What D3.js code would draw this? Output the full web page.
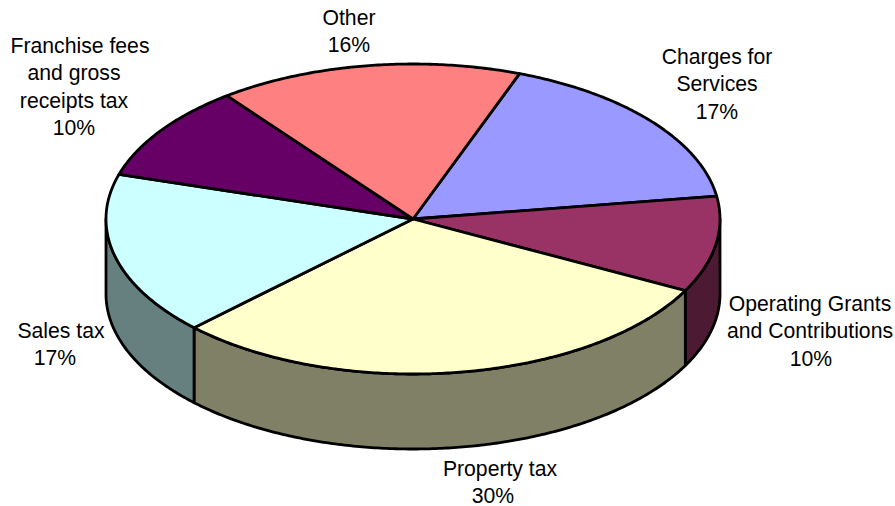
<!DOCTYPE html>
<html>
<head>
<meta charset="utf-8">
<script src="https://cdnjs.cloudflare.com/ajax/libs/d3/7.8.5/d3.min.js"></script>
<style>
  html, body { margin: 0; padding: 0; background: #fff; }
  svg { display: block; }
  text { font-family: "Liberation Sans", Arial, sans-serif; font-size: 21.2px; fill: #000; }
</style>
</head>
<body>
<svg id="chart" width="895" height="506"></svg>
<script>
// Revenue shares, clockwise from the "Charges for Services" slice
const categories = [
  "Charges for Services",
  "Operating Grants and Contributions",
  "Property tax",
  "Sales tax",
  "Franchise fees and gross receipts tax",
  "Other"
];
const shares = [17, 10, 30, 17, 10, 16];
const topColors = ["#9999ff", "#993366", "#ffffcc", "#ccffff", "#660066", "#ff8080"];
const sideColors = ["#4d4d80", "#4d1a33", "#808066", "#668080", "#330033", "#804040"];
const labelLines = [
  ["Charges for", "Services", "17%"],
  ["Operating Grants", "and Contributions", "10%"],
  ["Property tax", "30%"],
  ["Sales tax", "17%"],
  ["Franchise fees", "and gross", "receipts tax", "10%"],
  ["Other", "16%"]
];
// Horizontal centre of each label line, and the first baseline of each label
const labelCentres = [
  [717, 717, 717],
  [810, 810, 811],
  [500, 493],
  [61, 55],
  [80, 74, 74, 74],
  [349, 349]
];
const labelBaselines = [64, 311, 476, 338, 53, 25];

const width = 895, height = 506;
const cx = 413, cy = 219, rx = 307, ry = 155, depth = 75;
const lineHeight = 27.4;
const startAngle = 20.3 * Math.PI / 180;

const svg = d3.select("#chart");

// Unit-circle coordinates are flattened into the tilted ellipse
const xScale = d3.scaleLinear().domain([-1, 1]).range([cx - rx, cx + rx]);
const yScale = d3.scaleLinear().domain([-1, 1]).range([cy - ry, cy + ry]);

const pie = d3.pie().sort(null).value(d => d)
  .startAngle(startAngle).endAngle(startAngle + 2 * Math.PI);
const slices = pie(shares);

const rimPoint = (a, drop = 0) => [xScale(Math.sin(a)), yScale(-Math.cos(a)) + drop];
const path = d3.line();

function rim(a0, a1, drop = 0) {
  const n = Math.max(2, Math.ceil(Math.abs(a1 - a0) / 0.01));
  return d3.range(n + 1).map(i => rimPoint(a0 + (a1 - a0) * i / n, drop));
}

// Outer wall: only the part of each slice on the near half of the disc shows
const nearStart = Math.PI / 2, nearEnd = 3 * Math.PI / 2;
const walls = [];
slices.forEach((s, i) => {
  [0, 2 * Math.PI].forEach(turn => {
    const a0 = Math.max(s.startAngle - turn, nearStart);
    const a1 = Math.min(s.endAngle - turn, nearEnd);
    if (a1 > a0) walls.push({ i, a0, a1 });
  });
});

svg.append("g").selectAll("path").data(walls).join("path")
  .attr("d", w => path(rim(w.a0, w.a1).concat(rim(w.a1, w.a0, depth))) + "Z")
  .attr("fill", w => sideColors[w.i])
  .attr("stroke", "#000")
  .attr("stroke-width", 2.8)
  .attr("stroke-linejoin", "round");

// Top face of the disc
svg.append("g").selectAll("path").data(slices).join("path")
  .attr("d", s => path([[cx, cy]].concat(rim(s.startAngle, s.endAngle))) + "Z")
  .attr("fill", (s, i) => topColors[i])
  .attr("stroke", "#000")
  .attr("stroke-width", 2.8)
  .attr("stroke-linejoin", "round");

// Category and percentage labels
const labels = svg.append("g").selectAll("text").data(categories).join("text")
  .attr("text-anchor", "middle")
  .attr("aria-label", d => d);
labels.selectAll("tspan").data((d, i) => labelLines[i].map((t, j) => ({ t, i, j }))).join("tspan")
  .attr("x", d => labelCentres[d.i][d.j])
  .attr("y", d => labelBaselines[d.i] + d.j * lineHeight)
  .text(d => d.t);
</script>
</body>
</html>
